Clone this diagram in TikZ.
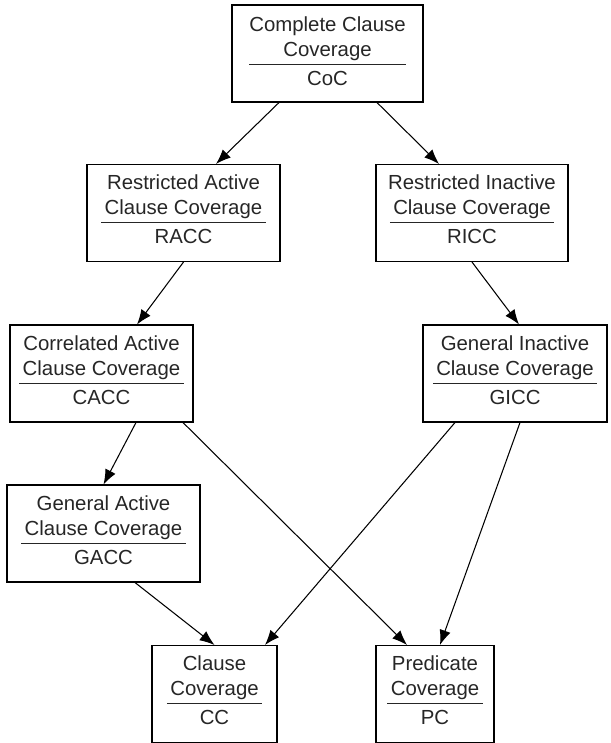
\documentclass[tikz,border=0pt]{standalone}
\usepackage{fontspec}
\setmainfont{Liberation Sans}
\usepackage{tikz}
\usetikzlibrary{arrows.meta}
\setlength{\arrayrulewidth}{0.6pt}
\newcommand{\covlines}[3]{#1\\\begin{tabular}[t]{@{\,}c@{\,}}#2\\\hline\rule{0pt}{11.6pt}#3\end{tabular}}

\begin{document}
\begin{tikzpicture}[>={Latex[length=8.5pt,width=6.5pt]},
  covbox/.style={draw,line width=0.6pt,align=center,minimum width=3.86cm,
    minimum height=1.94cm,inner xsep=2pt,text=black!85,
    font=\fontsize{11.6}{14.2}\selectfont},
  covarrow/.style={->,line width=0.6pt}]
  \useasboundingbox (0,0) rectangle (12.2,-14.86);
  % criteria boxes
  \node[covbox,minimum width=3.82cm] (coc) at (6.55,-1.07)
    {\begin{tabular}[t]{@{}c@{}}Complete Clause\\Coverage\\\hline\rule{0pt}{11.6pt}CoC\end{tabular}};
  \node[covbox] (racc) at (3.67,-4.26) {\covlines{Restricted Active}{Clause Coverage}{RACC}};
  \node[covbox,minimum width=3.84cm] (ricc) at (9.44,-4.26) {\covlines{Restricted Inactive}{Clause Coverage}{RICC}};
  \node[covbox,minimum width=3.66cm] (cacc) at (2.03,-7.47) {\covlines{Correlated Active}{Clause Coverage}{CACC}};
  \node[covbox,minimum width=3.68cm] (gicc) at (10.3,-7.47) {\covlines{General Inactive}{Clause Coverage}{GICC}};
  \node[covbox] (gacc) at (2.07,-10.67) {\covlines{General Active}{Clause Coverage}{GACC}};
  \node[covbox,minimum width=2.5cm] (cc) at (4.29,-13.88) {\covlines{Clause}{Coverage}{CC}};
  \node[covbox,minimum width=2.36cm] (pc) at (8.7,-13.88) {\covlines{Predicate}{Coverage}{PC}};
  % subsumption arrows
  \draw[covarrow] ([xshift=-0.97cm]coc.south) -- ([xshift=0.65cm]racc.north);
  \draw[covarrow] ([xshift=0.99cm]coc.south) -- ([xshift=-0.66cm]ricc.north);
  \draw[covarrow] (racc.south) -- ([xshift=0.71cm]cacc.north);
  \draw[covarrow] (ricc.south) -- ([xshift=0.08cm]gicc.north);
  \draw[covarrow] ([xshift=0.69cm]cacc.south) -- (gacc.north);
  \draw[covarrow] ([xshift=1.63cm]cacc.south) -- ([xshift=-0.56cm]pc.north);
  \draw[covarrow] ([xshift=-1.2cm]gicc.south) -- ([xshift=1.01cm]cc.north);
  \draw[covarrow] ([xshift=0.1cm]gicc.south) -- ([xshift=0.1cm]pc.north);
  \draw[covarrow] ([xshift=0.63cm]gacc.south) -- (cc.north);
\end{tikzpicture}
\end{document}
